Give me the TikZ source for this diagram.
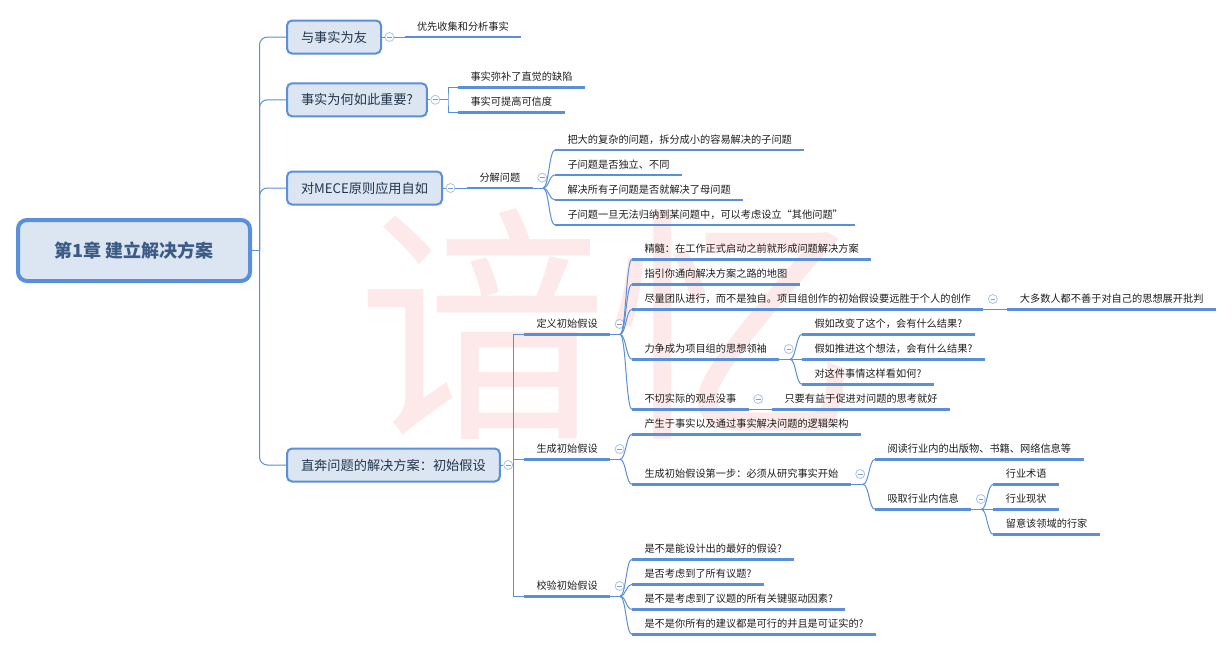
\documentclass[tikz,border=0pt]{standalone}
\usepackage{fontspec}
\setmainfont{Noto Sans CJK SC}
\usetikzlibrary{positioning}
\definecolor{linec}{HTML}{5B8FD9}
\definecolor{boxfill}{HTML}{DCE6F2}
\definecolor{roottext}{HTML}{3B5B85}
\definecolor{boxtext}{HTML}{22364F}
\definecolor{leaftext}{HTML}{1E1E1E}
\definecolor{foldc}{HTML}{A9C3EC}
\definecolor{wmark}{HTML}{FDE9E9}
\tikzset{
  root/.style={draw=linec, fill=boxfill, line width=4pt, rounded corners=9pt,
    minimum width=232pt, minimum height=61pt, text=roottext,
    font=\fontsize{18pt}{20pt}\selectfont\bfseries},
  topic/.style={draw=linec, fill=boxfill, line width=2pt, rounded corners=5pt,
    anchor=west, minimum height=33pt, inner xsep=14pt, text=boxtext,
    font=\fontsize{13.2pt}{15pt}\selectfont},
  leaf/.style={anchor=south west, inner xsep=12.3pt, inner ysep=5pt,
    text height=8.6pt, text depth=1.6pt, text=leaftext,
    font=\fontsize{10.2pt}{12pt}\selectfont},
  fold/.style={circle, draw=foldc, fill=white, line width=0.8pt, minimum size=9pt,
    inner sep=0pt, path picture={\draw[foldc!80!black, line width=0.7pt]
      ([xshift=-2.3pt]path picture bounding box.center) --
      ([xshift=2.3pt]path picture bounding box.center);}},
  conn/.style={draw=linec, line width=1pt},
  uline/.style={draw=linec, line width=2.6pt},
  twig/.style={to path={.. controls ([xshift=6pt]\tikztostart) and
    ([xshift=-6pt]\tikztotarget) .. (\tikztotarget)}}
}
\begin{document}
\begin{tikzpicture}[x=1pt, y=-1pt]
  \useasboundingbox (0,0) rectangle (1232,651);

  % watermark
  \node[text=wmark, inner sep=0pt, font=\fontsize{250pt}{250pt}\selectfont] (wm) at (608,324) {谙忆};

  % central topic
  \node[root] (root) at (134,250.5) {第1章 建立解决方案};
  \coordinate (rt) at (259.5,250.5);

  % main topics
  \node[topic] (b1) at (286,37) {与事实为友};
  \node[topic] (b2) at (286,99.8) {事实为何如此重要?};
  \node[topic] (b3) at (286,188) {对MECE原则应用自如};
  \node[topic] (b4) at (286,465) {直奔问题的解决方案：初始假设};
  \node[fold, right=2.5pt of b1] (b1f) {};
  \node[fold, right=2.5pt of b2] (b2f) {};
  \node[fold, right=2.5pt of b3] (b3f) {};
  \node[fold, right=2.5pt of b4] (b4f) {};

  % facts
  \node[leaf] (a1) at (404.5,37) {优先收集和分析事实};
  \node[leaf] (c1) at (458,87.3) {事实弥补了直觉的缺陷};
  \node[leaf] (c2) at (458,112.3) {事实可提高可信度};

  % MECE
  \node[leaf] (fj) at (467,188) {分解问题};
  \node[leaf] (fj1) at (555,150) {把大的复杂的问题，拆分成小的容易解决的子问题};
  \node[leaf] (fj2) at (555,175) {子问题是否独立、不同};
  \node[leaf] (fj3) at (555,200) {解决所有子问题是否就解决了母问题};
  \node[leaf] (fj4) at (555,225) {子问题一旦无法归纳到某问题中，可以考虑设立“其他问题”};
  \node[fold, right=4.5pt of fj] (fjf) {};

  % initial hypothesis: define
  \node[leaf] (dy) at (524,334.3) {定义初始假设};
  \node[leaf] (dy1) at (632,259.3) {精髓：在工作正式启动之前就形成问题解决方案};
  \node[leaf] (dy2) at (632,284.3) {指引你通向解决方案之路的地图};
  \node[leaf] (dy3) at (632,309.3) {尽量团队进行，而不是独自。项目组创作的初始假设要远胜于个人的创作};
  \node[leaf] (dy31) at (1007.4,309.3) {大多数人都不善于对自己的思想展开批判};
  \node[leaf] (dy4) at (632,359.3) {力争成为项目组的思想领袖};
  \node[leaf] (dy41) at (802,334.3) {假如改变了这个，会有什么结果?};
  \node[leaf] (dy42) at (802,359.3) {假如推进这个想法，会有什么结果?};
  \node[leaf] (dy43) at (802,384.3) {对这件事情这样看如何?};
  \node[leaf] (dy5) at (632,409.3) {不切实际的观点没事};
  \node[leaf] (dy51) at (772,409.3) {只要有益于促进对问题的思考就好};
  \node[fold, right=4.5pt of dy] (dyf) {};
  \node[fold, right=4.5pt of dy3] (dy3f) {};
  \node[fold, right=4.5pt of dy4] (dy4f) {};
  \node[fold, right=4.5pt of dy5] (dy5f) {};

  % initial hypothesis: generate
  \node[leaf] (sc) at (524,459.3) {生成初始假设};
  \node[leaf] (sc1) at (632,434.3) {产生于事实以及通过事实解决问题的逻辑架构};
  \node[leaf] (sc2) at (632,484.3) {生成初始假设第一步：必须从研究事实开始};
  \node[leaf] (sc21) at (875,459.3) {阅读行业内的出版物、书籍、网络信息等};
  \node[leaf] (sc22) at (875,509.3) {吸取行业内信息};
  \node[leaf] (sc221) at (993.3,484.3) {行业术语};
  \node[leaf] (sc222) at (993.3,509.3) {行业现状};
  \node[leaf] (sc223) at (993.3,534.3) {留意该领域的行家};
  \node[fold, right=4.5pt of sc] (scf) {};
  \node[fold, right=4.5pt of sc2] (sc2f) {};
  \node[fold, right=4.5pt of sc22] (sc22f) {};

  % initial hypothesis: check
  \node[leaf] (jy) at (524,596.3) {校验初始假设};
  \node[leaf] (jy1) at (632,559.3) {是不是能设计出的最好的假设?};
  \node[leaf] (jy2) at (632,584.3) {是否考虑到了所有议题?};
  \node[leaf] (jy3) at (632,609.3) {是不是考虑到了议题的所有关键驱动因素?};
  \node[leaf] (jy4) at (632,634.3) {是不是你所有的建议都是可行的并且是可证实的?};
  \node[fold, right=4.5pt of jy] (jyf) {};

  % connectors from the centre
  \draw[conn] (root.east) -- (rt);
  \foreach \b in {b1,b2,b3,b4}
    \draw[conn, rounded corners=8pt] (rt) |- (\b.west);

  \draw[conn] (b1.east) -- (b1f);
  \draw[conn] (b1f) -- (a1.south west);

  \coordinate (b2k) at (448,99.8);
  \draw[conn] (b2.east) -- (b2f);
  \draw[conn] (b2f) -- (b2k);
  \draw[conn] (c1.south west) -| (b2k) |- (c2.south west);

  \draw[conn] (b3.east) -- (b3f);
  \draw[conn] (b3f) -- (fj.south west);
  \coordinate (fjk) at (543,188);
  \draw[conn] (fj.south east) -- (fjk);
  \foreach \c in {fj1,fj2,fj3,fj4}
    \draw[conn] (fjk) to[twig] (\c.south west);

  \coordinate (b4k) at (513.6,465);
  \draw[conn] (b4.east) -- (b4f);
  \draw[conn] (b4f) -- (b4k);
  \draw[conn] (dy.south west) -| (b4k) |- (jy.south west);
  \draw[conn] (b4k |- sc.south west) -- (sc.south west);

  \coordinate (dyk) at (620,334.3);
  \draw[conn] (dy.south east) -- (dyk);
  \foreach \c in {dy1,dy2,dy3,dy4,dy5}
    \draw[conn] (dyk) to[twig] (\c.south west);
  \draw[conn] (dy3.south east) -- (dy31.south west);
  \coordinate (dy4k) at (790,359.3);
  \draw[conn] (dy4.south east) -- (dy4k);
  \foreach \c in {dy41,dy42,dy43}
    \draw[conn] (dy4k) to[twig] (\c.south west);
  \draw[conn] (dy5.south east) -- (dy51.south west);

  \coordinate (sck) at (620,459.3);
  \draw[conn] (sc.south east) -- (sck);
  \foreach \c in {sc1,sc2}
    \draw[conn] (sck) to[twig] (\c.south west);
  \coordinate (sc2k) at (863,484.3);
  \draw[conn] (sc2.south east) -- (sc2k);
  \foreach \c in {sc21,sc22}
    \draw[conn] (sc2k) to[twig] (\c.south west);
  \coordinate (sc22k) at (981.3,509.3);
  \draw[conn] (sc22.south east) -- (sc22k);
  \foreach \c in {sc221,sc222,sc223}
    \draw[conn] (sc22k) to[twig] (\c.south west);

  \coordinate (jyk) at (620,596.3);
  \draw[conn] (jy.south east) -- (jyk);
  \foreach \c in {jy1,jy2,jy3,jy4}
    \draw[conn] (jyk) to[twig] (\c.south west);

  % underlines
  \foreach \n in {a1,c1,c2,fj,fj1,fj2,fj3,fj4,dy,dy1,dy2,dy3,dy31,dy4,dy41,dy42,dy43,
                  dy5,dy51,sc,sc1,sc2,sc21,sc22,sc221,sc222,sc223,jy,jy1,jy2,jy3,jy4}
    \draw[uline] (\n.south west) -- (\n.south east);
\end{tikzpicture}
\end{document}
